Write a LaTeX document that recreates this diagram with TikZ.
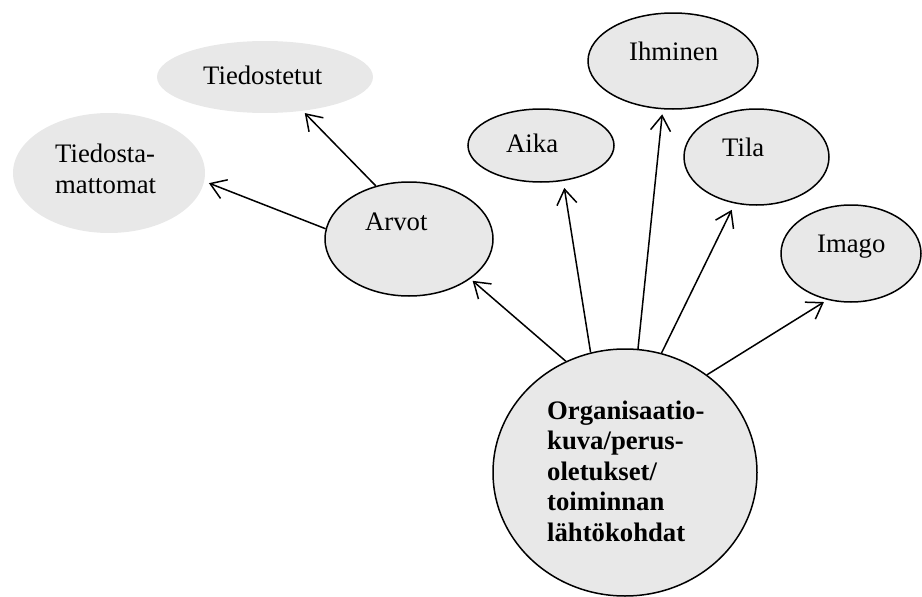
\documentclass[tikz,border=0pt]{standalone}
\usepackage{fontspec}
\setmainfont{Liberation Serif}
\usetikzlibrary{shapes.geometric,arrows.meta}
\definecolor{ovalfill}{RGB}{232,232,232}
\begin{document}
\begin{tikzpicture}[x=1pt,y=-1pt,
  oval/.style={ellipse, fill=ovalfill, draw=black, line width=1.5pt, inner sep=0pt},
  softoval/.style={ellipse, fill=ovalfill, draw=none, inner sep=0pt},
  txt/.style={inner sep=0pt, font=\fontsize{26.7}{30.5}\selectfont, align=left, anchor=base west},
  btxt/.style={txt, font=\fontsize{26.7}{30.5}\selectfont\bfseries},
  link/.style={line width=1.5pt, -{Straight Barb[length=15pt,width=20pt,line width=1.5pt]}}
]
\useasboundingbox (0,0) rectangle (922,597);

% ovals
\node[softoval, minimum width=216, minimum height=72] (tiedostetut) at (265,77) {};
\node[softoval, minimum width=192, minimum height=120] (tiedostamattomat) at (109,173) {};
\node[oval, minimum width=168, minimum height=114] (arvot) at (409,239) {};
\node[oval, minimum width=146, minimum height=73] (aika) at (541,145.5) {};
\node[oval, minimum width=170, minimum height=96] (ihminen) at (673,61) {};
\node[oval, minimum width=145, minimum height=96] (tila) at (756.5,157) {};
\node[oval, minimum width=140, minimum height=97] (imago) at (851,253.5) {};
\node[oval, minimum width=264, minimum height=247] (keskus) at (625,472.5) {};

% texts (base = baseline of the last line)
\node[txt] (t-tiedostetut) at (203,84) {Tiedostetut};
\node[txt] (t-tiedostamattomat) at (55,193) {Tiedosta-\\mattomat};
\node[txt] (t-arvot) at (365,230) {Arvot};
\node[txt] (t-aika) at (506,152) {Aika};
\node[txt] (t-ihminen) at (629,60) {Ihminen};
\node[txt] (t-tila) at (722,156) {Tila};
\node[txt] (t-imago) at (817,252) {Imago};
\node[btxt] (t-keskus) at (547,541) {Organisaatio-\\kuva/perus-\\oletukset/\\toiminnan\\lähtökohdat};

% connectors
\draw[link, shorten >=3pt] (arvot.122) -- (tiedostetut.-42);
\draw[link, shorten >=5pt] (arvot.173) -- (tiedostamattomat.-5);
\draw[link, shorten >=3pt] (keskus.118) -- (arvot.-33);
\draw[link, shorten >=7pt] (keskus.106) -- (aika.-58.6);
\draw[link, shorten >=5pt] (keskus.84) -- (ihminen.-102.8);
\draw[link, shorten >=7pt] (keskus.73) -- (tila.-115.7);
\draw[link, shorten >=4pt] (keskus.50) -- (imago.-117.7);
\end{tikzpicture}
\end{document}
